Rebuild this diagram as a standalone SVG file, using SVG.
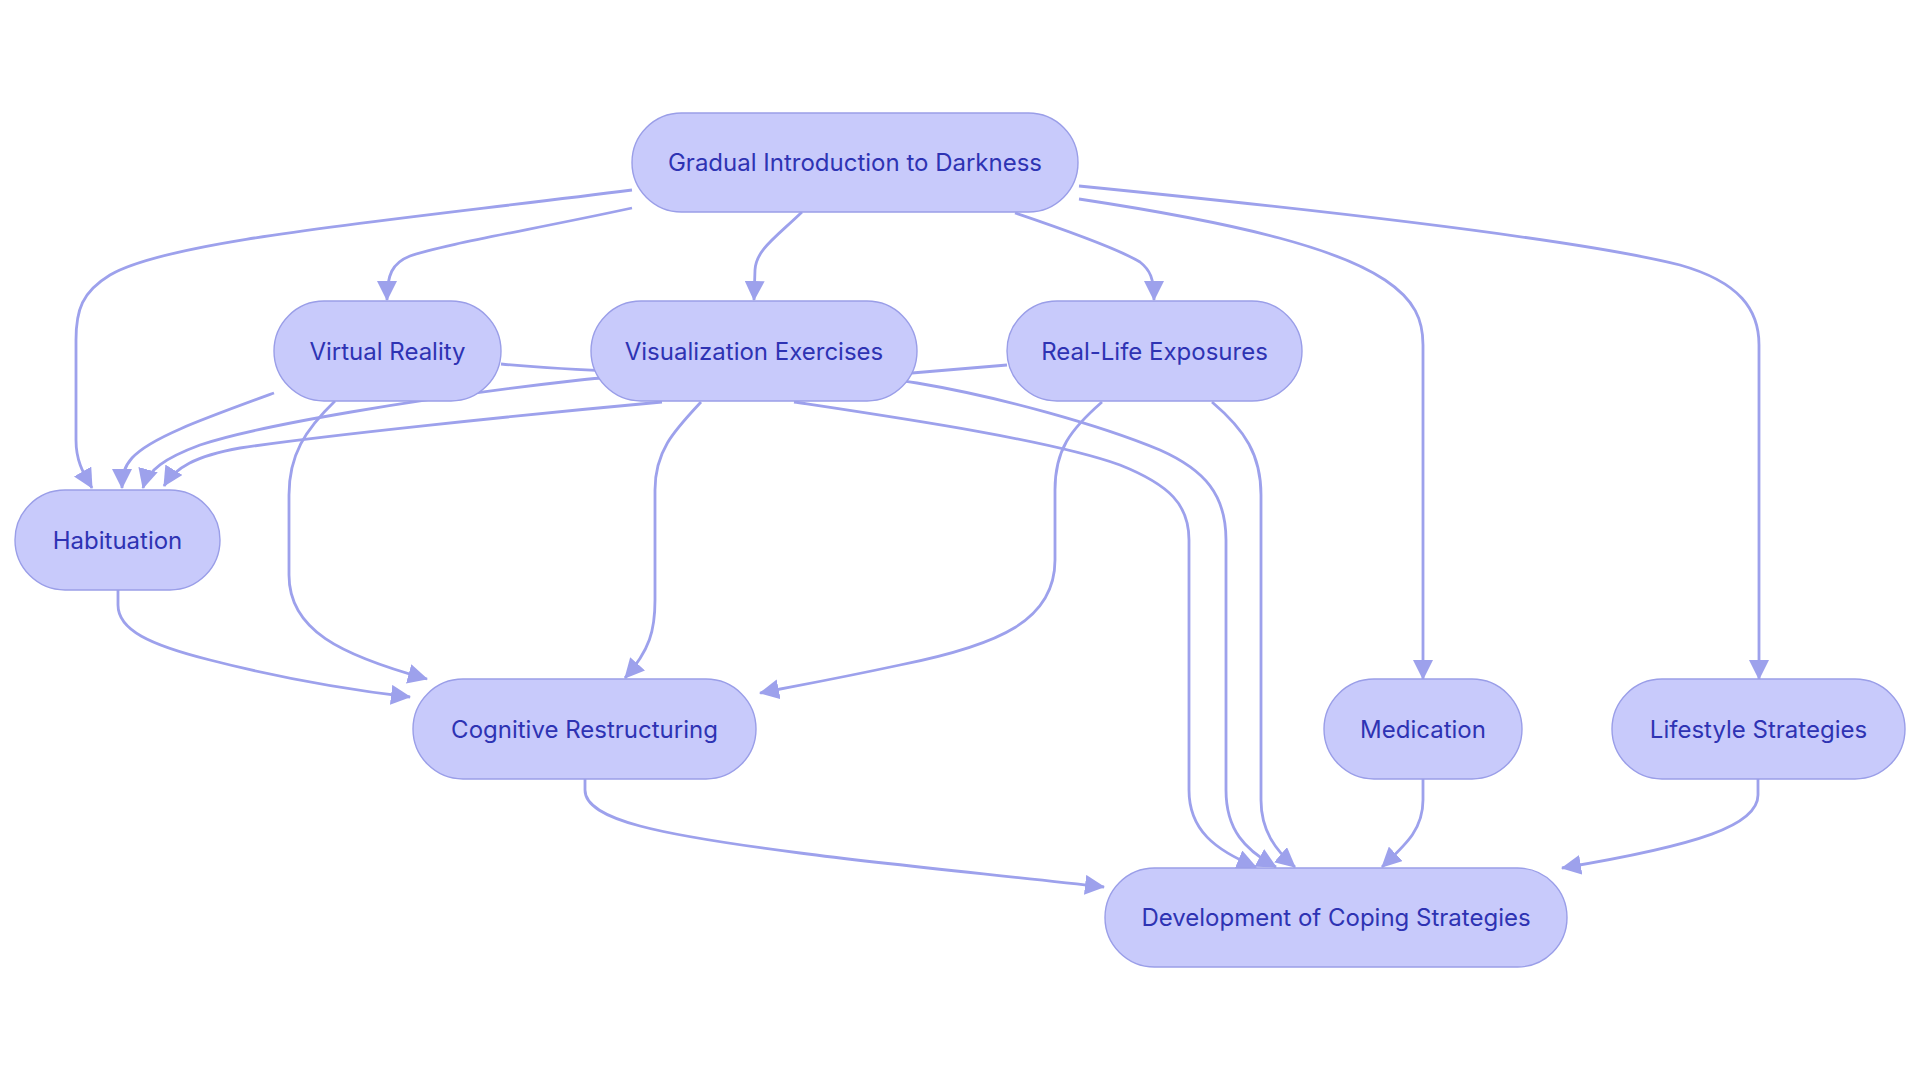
<svg xmlns="http://www.w3.org/2000/svg" width="1920" height="1080" viewBox="0 0 1920 1080">
<defs>
<style>
.node rect{fill:#C8CAFB;stroke:#9A9EE8;stroke-width:1.4}
.node text{font-family:Inter,"Noto Sans","Liberation Sans",sans-serif;font-size:24px;font-weight:400;fill:#2E33B3;text-anchor:middle;dominant-baseline:central}
.edges path{fill:none;stroke:#9DA1EC;stroke-width:2.8;marker-end:url(#arrow)}
</style>
<marker id="arrow" viewBox="0 0 10 10" refX="9.5" refY="5" markerUnits="userSpaceOnUse" markerWidth="20" markerHeight="20" orient="auto">
<path d="M0,0 L10,5 L0,10 z" fill="#9DA1EC"/>
</marker>
</defs>
<rect width="1920" height="1080" fill="#FFFFFF"/>
<g class="edges" id="connectors">
<path d="M632,190 C380,222 170,240 110,275 C82,292 76,310 76,340 L76,440 C76,462 84,474 92,488"/>
<path d="M632,208 C530,230 440,245 410,256 C392,263 387,275 387,300"/>
<path d="M802,212 C775,238 756,250 755,270 L754,300"/>
<path d="M1015,213 C1080,235 1120,250 1140,262 C1150,270 1154,278 1154,300"/>
<path d="M1079,199 C1250,225 1340,250 1385,280 C1415,300 1423,320 1423,345 L1423,679"/>
<path d="M1079,186 C1400,218 1600,245 1680,265 C1740,282 1759,310 1759,345 L1759,679"/>
<path d="M274,393 C200,420 150,438 132,458 C124,467 122,475 122,488"/>
<path d="M335,401 C305,430 289,455 289,495 L289,575 C289,630 340,655 427,679"/>
<path d="M501,364 C650,378 850,372 917,383 C1000,397 1100,425 1160,450 C1205,470 1226,495 1226,540 L1226,790 C1226,830 1245,850 1276,867"/>
<path d="M662,402 C520,415 320,436 240,448 C195,456 175,468 164,486"/>
<path d="M1007,365 L912,373 C800,378 650,372 580,380 C420,398 260,425 200,445 C165,458 148,470 143,488"/>
<path d="M701,402 C675,430 655,450 655,490 L655,600 C655,630 650,650 625,678"/>
<path d="M794,402 C900,418 1050,440 1120,465 C1170,485 1189,505 1189,540 L1189,790 C1189,830 1215,850 1256,867"/>
<path d="M1102,402 C1070,430 1055,450 1055,490 L1055,560 C1055,620 1000,645 900,665 C830,680 790,687 760,693"/>
<path d="M1212,402 C1245,430 1261,455 1261,495 L1261,800 C1261,830 1275,850 1295,867"/>
<path d="M118,590 L118,605 C118,630 150,645 210,660 C280,678 350,690 410,697"/>
<path d="M585,779 L585,790 C585,820 660,835 800,853 C900,866 1000,875 1104,887"/>
<path d="M1423,779 L1423,800 C1423,830 1405,845 1382,867"/>
<path d="M1758,779 L1758,795 C1758,825 1700,845 1562,868"/>
</g>
<g class="node" id="gradual"><rect x="632" y="113" width="446" height="99" rx="49.5"/><text x="855" y="162.5">Gradual Introduction to Darkness</text></g>
<g class="node" id="virtual-reality"><rect x="274" y="301" width="227" height="100" rx="50"/><text x="387.5" y="351">Virtual Reality</text></g>
<g class="node" id="visualization"><rect x="591" y="301" width="326" height="100" rx="50"/><text x="754" y="351">Visualization Exercises</text></g>
<g class="node" id="real-life"><rect x="1007" y="301" width="295" height="100" rx="50"/><text x="1154.5" y="351">Real-Life Exposures</text></g>
<g class="node" id="habituation"><rect x="15" y="490" width="205" height="100" rx="50"/><text x="117.5" y="540">Habituation</text></g>
<g class="node" id="cognitive"><rect x="413" y="679" width="343" height="100" rx="50"/><text x="584.5" y="729">Cognitive Restructuring</text></g>
<g class="node" id="medication"><rect x="1324" y="679" width="198" height="100" rx="50"/><text x="1423" y="729">Medication</text></g>
<g class="node" id="lifestyle"><rect x="1612" y="679" width="293" height="100" rx="50"/><text x="1758.5" y="729">Lifestyle Strategies</text></g>
<g class="node" id="coping"><rect x="1105" y="868" width="462" height="99" rx="49.5"/><text x="1336" y="917.5">Development of Coping Strategies</text></g>
</svg>
